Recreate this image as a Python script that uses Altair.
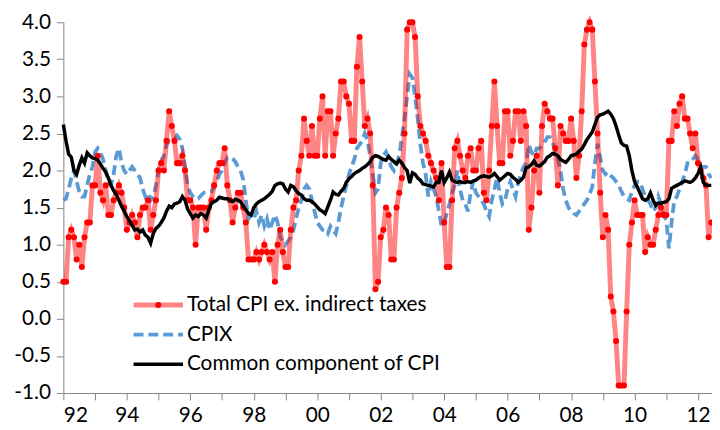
import altair as alt
import pandas as pd

FONT = "Lato"

year_ticks = list(range(1992, 2013))
y_ticks = [-1.0, -0.5, 0.0, 0.5, 1.0, 1.5, 2.0, 2.5, 3.0, 3.5, 4.0]
series_names = ["Total CPI ex. indirect taxes", "CPIX", "Common component of CPI"]

# Total CPI ex. indirect taxes, monthly Jan 1992 - Jun 2012
total = [
    0.5, 0.5, 1.1, 1.2, 1.1, 0.8, 1.0, 0.7, 1.1, 1.3, 1.3, 1.8,   # 1992
    1.8, 2.2, 1.7, 1.6, 1.8, 1.4, 1.4, 1.6, 1.7, 1.8, 1.7, 1.5,   # 1993
    1.2, 1.3, 1.4, 1.3, 1.1, 1.4, 1.5, 1.5, 1.6, 1.2, 1.4, 1.6,   # 1994
    2.0, 2.1, 2.0, 2.4, 2.8, 2.6, 2.4, 2.1, 2.1, 2.2, 2.0, 1.6,   # 1995
    1.6, 1.5, 1.0, 1.5, 1.5, 1.5, 1.2, 1.5, 1.6, 1.8, 2.0, 2.1,   # 1996
    2.1, 2.3, 1.8, 1.6, 1.3, 1.5, 1.7, 1.7, 1.5, 1.3, 0.8, 0.8,   # 1997
    0.8, 0.9, 0.8, 0.9, 1.0, 0.9, 0.8, 0.9, 0.5, 1.0, 1.2, 0.9,   # 1998
    0.7, 0.7, 1.2, 1.5, 1.6, 2.0, 2.2, 2.7, 2.4, 2.2, 2.6, 2.2,   # 1999
    2.2, 2.7, 3.0, 2.2, 2.8, 2.8, 2.2, 2.5, 2.7, 3.2, 3.2, 3.0,   # 2000
    2.9, 2.4, 2.4, 3.4, 3.8, 3.2, 2.6, 2.7, 2.5, 1.8, 0.4, 0.5,   # 2001
    1.1, 1.2, 1.5, 1.4, 0.8, 0.8, 1.5, 1.7, 1.9, 2.5, 3.9, 4.0,   # 2002
    4.0, 3.8, 3.0, 2.6, 2.5, 2.4, 2.2, 2.1, 2.0, 1.9, 1.6, 2.1,   # 2003
    1.3, 0.7, 0.7, 1.6, 2.3, 2.4, 2.2, 2.0, 1.9, 2.2, 2.3, 2.0,   # 2004
    2.0, 2.3, 2.4, 1.7, 1.6, 2.0, 2.6, 3.2, 2.6, 2.1, 2.1, 2.8,   # 2005
    2.8, 2.2, 2.4, 2.8, 2.8, 2.4, 2.8, 2.6, 1.2, 1.5, 2.0, 2.2,   # 2006
    1.7, 2.6, 2.9, 2.8, 2.7, 2.7, 2.3, 1.8, 2.6, 2.5, 2.4, 2.4,   # 2007
    2.7, 2.4, 1.9, 2.2, 2.8, 3.7, 3.9, 4.0, 3.9, 3.2, 2.5, 1.7,   # 2008
    1.1, 1.4, 1.2, 0.3, 0.1, -0.3, -0.9, -0.9, -0.9, 0.1, 1.0, 1.3,  # 2009
    1.6, 1.4, 1.4, 1.4, 0.9, 1.1, 1.0, 1.0, 1.2, 1.4, 1.5, 1.4,   # 2010
    1.4, 2.4, 2.4, 2.8, 2.6, 2.9, 3.0, 2.7, 2.7, 2.5, 2.3, 2.5,   # 2011
    2.1, 2.0, 1.9, 1.8, 1.1, 1.3,                                 # 2012
]

# CPIX
cpix = [
    1.6, 1.62, 1.75, 1.9, 2.0, 1.85, 1.72, 1.65, 1.65, 1.8, 1.95, 2.05,
    2.25, 2.3, 2.25, 2.15, 2.0, 1.85, 1.8, 1.95, 2.2, 2.3, 2.1, 2.0,
    1.95, 2.0, 2.05, 2.0, 1.95, 1.9, 1.75, 1.65, 1.7, 1.6, 1.65, 1.8,
    2.0, 2.1, 2.2, 2.35, 2.4, 2.4, 2.42, 2.47, 2.42, 2.3, 2.05, 1.8,
    1.7, 1.65, 1.62, 1.62, 1.66, 1.7, 1.71, 1.71, 1.72, 1.78, 1.85, 1.95,
    2.0, 2.1, 2.18, 2.18, 2.16, 2.12, 2.05, 2.0, 1.88, 1.6, 1.35, 1.4,
    1.35, 1.45, 1.3, 1.4, 1.25, 1.35, 1.2, 1.3, 1.4, 1.3, 1.1, 1.05,
    1.0, 1.05, 1.1, 1.2, 1.35, 1.5, 1.6, 1.75, 1.8, 1.75, 1.6, 1.45,
    1.3, 1.25, 1.2, 1.2, 1.15, 1.25, 1.2, 1.15, 1.3, 1.5, 1.65, 1.8,
    1.95, 2.05, 2.15, 2.3, 2.35, 2.4, 2.5, 2.4, 2.2, 1.95, 1.7, 1.75,
    2.1, 2.2, 2.25, 2.15, 2.05, 2.0, 2.1, 2.2, 2.45, 2.7, 3.0, 3.3,
    3.25, 3.0, 2.7, 2.35, 2.1, 1.95, 1.65, 1.85, 1.75, 1.65, 1.45, 1.25,
    1.3, 1.42, 1.55, 1.7, 1.8, 2.0, 1.75, 1.6, 1.55, 1.45, 1.7, 1.85,
    1.7, 1.65, 1.6, 1.55, 1.45, 1.38, 1.6, 1.75, 1.9, 1.7, 1.55, 1.6,
    1.75, 1.85, 1.75, 1.65, 1.85, 1.95, 2.05, 2.1, 2.35, 2.25, 2.2, 2.3,
    2.3, 2.33, 2.38, 2.45, 2.45, 2.38, 2.27, 2.15, 2.0, 1.75, 1.6, 1.5,
    1.45, 1.42, 1.4, 1.45, 1.5, 1.55, 1.6, 1.68, 1.78, 2.1, 2.36, 2.18,
    2.0, 1.95, 1.98, 1.93, 1.9, 1.85, 1.8, 1.72, 1.65, 1.62, 1.6, 1.72,
    1.8, 1.85, 1.85, 1.75, 1.65, 1.6, 1.55, 1.45, 1.5, 1.65, 1.55, 1.4,
    1.33, 0.95, 1.3, 1.6, 1.65, 1.75, 1.85, 1.95, 2.1, 2.1, 2.15, 2.2,
    2.15, 2.05, 2.05, 2.05, 1.95, 1.9,
]

# Common component of CPI
common = [
    2.62, 2.4, 2.22, 2.18, 2.0, 1.95, 2.07, 2.17, 2.1, 2.24, 2.2, 2.17,
    2.16, 2.14, 2.09, 2.03, 1.98, 1.9, 1.8, 1.73, 1.68, 1.6, 1.52, 1.45,
    1.38, 1.32, 1.26, 1.2, 1.21, 1.17, 1.2, 1.13, 1.1, 1.02, 1.15, 1.22,
    1.25, 1.3, 1.36, 1.45, 1.52, 1.5, 1.55, 1.56, 1.58, 1.65, 1.6, 1.48,
    1.42, 1.36, 1.4, 1.38, 1.42, 1.4, 1.36, 1.47, 1.56, 1.58, 1.6, 1.64,
    1.63, 1.62, 1.62, 1.6, 1.58, 1.61, 1.6, 1.58, 1.52, 1.47, 1.42, 1.4,
    1.5, 1.55, 1.58, 1.6, 1.62, 1.65, 1.68, 1.72, 1.8, 1.82, 1.83, 1.82,
    1.75, 1.71, 1.8, 1.78, 1.73, 1.69, 1.67, 1.62, 1.6, 1.6, 1.58, 1.55,
    1.51, 1.47, 1.45, 1.42, 1.51, 1.6, 1.71, 1.68, 1.67, 1.72, 1.76, 1.84,
    1.89, 1.92, 1.96, 1.98, 2.0, 2.03, 2.05, 2.08, 2.12, 2.18, 2.2, 2.19,
    2.17, 2.15, 2.14, 2.19, 2.15, 2.12, 2.09, 2.14, 2.1, 2.04, 2.0, 1.83,
    1.97, 1.95, 1.9, 1.87, 1.82, 1.81, 1.8, 1.79, 1.78, 1.84, 1.84, 2.0,
    1.84, 1.9, 1.98, 1.87, 1.85, 1.84, 1.85, 1.84, 1.84, 1.85, 1.84, 1.86,
    1.87, 1.9, 1.92, 1.93, 1.92, 1.91, 1.93, 1.96, 1.92, 1.87, 1.9, 1.93,
    1.96, 1.95, 1.91, 1.88, 1.84, 1.87, 1.91, 2.04, 2.05, 2.08, 2.13, 2.07,
    2.06, 2.09, 2.12, 2.18, 2.2, 2.23, 2.22, 2.2, 2.15, 2.13, 2.11, 2.15,
    2.2, 2.21, 2.22, 2.26, 2.29, 2.35, 2.42, 2.47, 2.52, 2.62, 2.72, 2.75,
    2.76, 2.78, 2.8, 2.76, 2.7, 2.6, 2.48, 2.37, 2.34, 2.33, 2.2, 2.0,
    1.85, 1.78, 1.7, 1.62, 1.6, 1.62, 1.7, 1.6, 1.53, 1.56, 1.56, 1.57,
    1.58, 1.62, 1.76, 1.78, 1.8, 1.82, 1.84, 1.86, 1.85, 1.84, 1.86, 1.9,
    1.96, 2.04, 1.84, 1.8, 1.8, 1.8,
]

n = min(len(total), len(cpix), len(common))
df = pd.DataFrame({
    "t": [1992 + i / 12 for i in range(n)],
    "total": total[:n],
    "cpix": cpix[:n],
    "common": common[:n],
})

x_enc = alt.X(
    "t:Q",
    scale=alt.Scale(domain=[1992, 2012.44], nice=False, zero=False),
    axis=alt.Axis(
        values=year_ticks,
        labelExpr="datum.value % 2 == 0 ? slice(toString(datum.value), 2) : ''",
        title=None, grid=False, tickSize=7, labelPadding=5, labelOverlap=False,
    ),
)


def y_enc(field):
    return alt.Y(
        f"{field}:Q",
        scale=alt.Scale(domain=[-1, 4], nice=False, zero=False),
        axis=alt.Axis(
            values=y_ticks,
            labelExpr="(datum.value < 0 ? '-' : '') + format(abs(datum.value), '.1f')",
            title=None, grid=False, tickSize=7, labelPadding=6,
        ),
    )


base = alt.Chart(df)
RED = "#FF0000"
BLUE = "#5B9BD5"

blue_line = base.mark_line(color=BLUE, strokeWidth=3.8, strokeDash=[10, 5]).encode(
    x=x_enc, y=y_enc("cpix"))
red_line = base.mark_line(color=RED, strokeWidth=5, strokeOpacity=0.48).encode(
    x=x_enc, y=y_enc("total"))
red_pts = base.mark_circle(color=RED, size=38, opacity=1).encode(
    x=x_enc, y=y_enc("total"))
black_line = base.mark_line(color="#000000", strokeWidth=3.5).encode(
    x=x_enc, y=y_enc("common"))

# Legend (inside plot area)
LX0, LX1, LXT = 71, 121, 125
LY = [286, 316, 346]


def one(label):
    return alt.Chart(pd.DataFrame({"label": [label]}))


leg = []
leg.append(one(series_names[0]).mark_rule(color=RED, strokeWidth=5, strokeOpacity=0.48).encode(
    x=alt.value(LX0), x2=alt.value(LX1), y=alt.value(LY[0])))
leg.append(one(series_names[0]).mark_circle(color=RED, size=38, opacity=1).encode(
    x=alt.value((LX0 + LX1) / 2), y=alt.value(LY[0])))
leg.append(one(series_names[1]).mark_rule(color=BLUE, strokeWidth=3.8, strokeDash=[10, 5]).encode(
    x=alt.value(LX0), x2=alt.value(LX1), y=alt.value(LY[1])))
leg.append(one(series_names[2]).mark_rule(color="#000000", strokeWidth=3.5).encode(
    x=alt.value(LX0), x2=alt.value(LX1), y=alt.value(LY[2])))
for i, name in enumerate(series_names):
    leg.append(one(name).mark_text(align="left", baseline="middle", font=FONT, fontSize=21,
                                   color="#000000").encode(
        x=alt.value(LXT), y=alt.value(LY[i]), text="label:N"))

chart = alt.layer(blue_line, red_line, red_pts, black_line, *leg).properties(
    width=656, height=375,
    autosize=alt.AutoSizeParams(type="none"),
    padding={"left": 56, "top": 12, "right": 0, "bottom": 34},
).configure_view(stroke=None).configure_axis(
    domainColor="#868686", tickColor="#868686", domainWidth=1, tickWidth=1,
    labelFont=FONT, labelFontSize=21, labelColor="#000000",
)

chart.save("out.html", embed_options={"renderer": "svg", "actions": False})
